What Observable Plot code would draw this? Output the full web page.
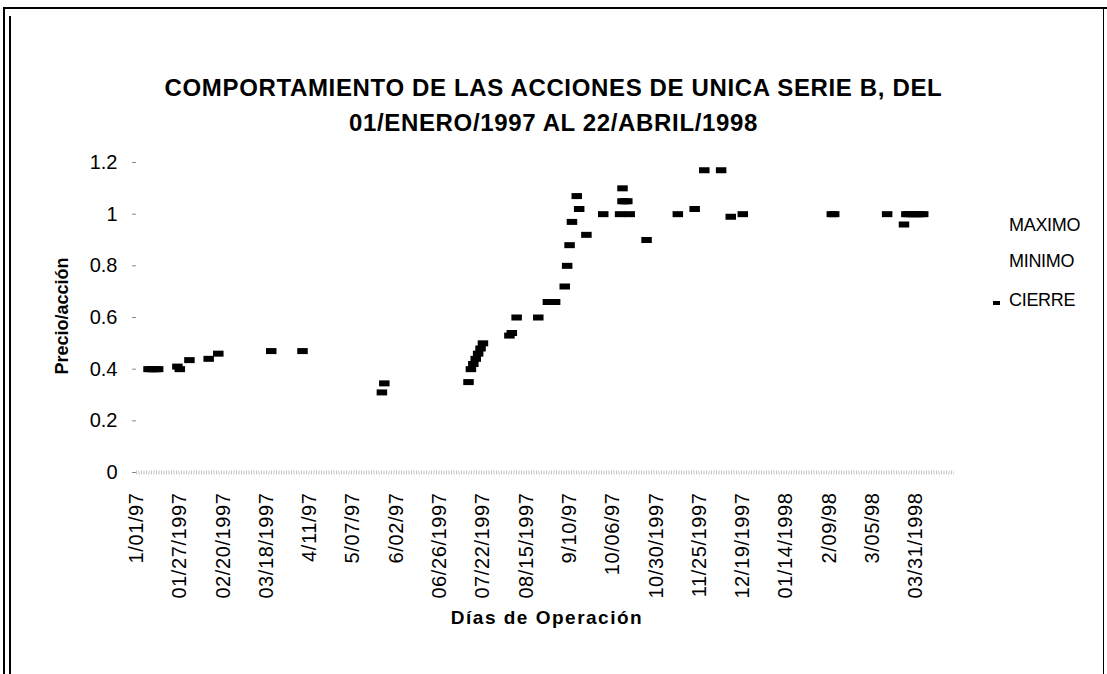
<!DOCTYPE html>
<html><head><meta charset="utf-8">
<script src="https://cdn.jsdelivr.net/npm/d3@7"></script>
<script src="https://cdn.jsdelivr.net/npm/@observablehq/plot@0.6"></script>
<style>
html,body{margin:0;padding:0;background:#fff;}
#wrap{position:relative;width:1107px;height:674px;overflow:hidden;font-family:"Liberation Sans",Arial,sans-serif;color:#000;background:#fff;}
#chart{position:absolute;left:0;top:0;}
.line{position:absolute;background:#000;}
.title{position:absolute;left:0;width:1107px;top:70px;text-align:center;font-weight:bold;font-size:24px;line-height:35px;letter-spacing:0.65px;}
.ytitle{position:absolute;left:-38px;top:305px;width:200px;text-align:center;font-weight:bold;font-size:18px;line-height:22px;transform:rotate(-90deg);transform-origin:100px 11px;}
.xtitle{position:absolute;left:347px;width:400px;top:606px;text-align:center;font-weight:bold;font-size:19px;line-height:24px;letter-spacing:1.5px;}
.leg{position:absolute;left:1009px;font-size:18px;line-height:20px;white-space:nowrap;letter-spacing:-0.3px;}
.legmark{position:absolute;left:993px;top:301px;width:7px;height:4px;background:#000;}
svg g[aria-label="x-axis tick label"] text{letter-spacing:0.6px;}
svg g[aria-label="y-axis tick"]{stroke:#888;}
</style></head><body>
<div id="wrap">
  <div id="chart"></div>
  <div class="line" style="left:3px;top:7px;width:1104px;height:2px;"></div>
  <div class="line" style="left:3px;top:7px;width:1.5px;height:667px;"></div>
  <div class="line" style="left:9px;top:16px;width:1.5px;height:658px;"></div>
  <div class="line" style="left:1103px;top:7px;width:1px;height:667px;"></div>
  <div class="title" id="title"></div>
  <div class="ytitle" id="ytitle"></div>
  <div class="xtitle" id="xtitle"></div>
  <div id="legend"></div>
</div>
<script>
// Category axis: trading (week) days counted from 1/01/97, labelled every 18 days
const tickEvery = 18;
const lastDay = 340;
const tickLabels = ["1/01/97","01/27/1997","02/20/1997","03/18/1997","4/11/97","5/07/97","6/02/97","06/26/1997","07/22/1997","08/15/1997","9/10/97","10/06/97","10/30/1997","11/25/1997","12/19/1997","01/14/1998","2/09/98","3/05/98","03/31/1998"];
const yTicks = [0, 0.2, 0.4, 0.6, 0.8, 1, 1.2];

// CIERRE (closing price) by trading-day index
const cierreDay = [5,6,7,8,9,17,18,22,30,34,56,69,102,103,138,139,140,141,142,143,144,155,156,158,167,171,172,173,174,178,179,180,181,183,184,187,194,201,202,202,203,204,205,212,225,232,236,243,247,252,289,290,312,319,320,321,322,323,324,325,326,327];
const cierreValue = [0.40,0.40,0.40,0.40,0.40,0.41,0.40,0.435,0.44,0.46,0.47,0.47,0.31,0.345,0.35,0.40,0.42,0.44,0.46,0.48,0.50,0.53,0.54,0.60,0.60,0.66,0.66,0.66,0.66,0.72,0.80,0.88,0.97,1.07,1.02,0.92,1.00,1.00,1.10,1.05,1.05,1.05,1.00,0.90,1.00,1.02,1.17,1.17,0.99,1.00,1.00,1.00,1.00,0.96,1.00,1.00,1.00,1.00,1.00,1.00,1.00,1.00];

const titleLines = ["COMPORTAMIENTO DE LAS ACCIONES DE UNICA SERIE B, DEL","01/ENERO/1997 AL 22/ABRIL/1998"];
const yTitle = "Precio/acción";
const xTitle = "Días de Operación";
const legendLabels = ["MAXIMO","MINIMO","CIERRE"];

document.getElementById("title").innerHTML = titleLines.join("<br>");
document.getElementById("ytitle").textContent = yTitle;
document.getElementById("xtitle").textContent = xTitle;
const legendTops = [215, 251, 290];
const legend = document.getElementById("legend");
legendLabels.forEach((t, i) => {
  const d = document.createElement("div");
  d.className = "leg";
  d.style.top = legendTops[i] + "px";
  d.textContent = t;
  legend.appendChild(d);
  if (t === "CIERRE") {
    const m = document.createElement("div");
    m.className = "legmark";
    legend.appendChild(m);
  }
});

const data = cierreDay.map((d, i) => ({day: d, value: cierreValue[i]}));
const tickDays = tickLabels.map((_, i) => i * tickEvery);
const rectSymbol = {draw(ctx) { ctx.rect(-5.25, -3, 10.5, 6); }};

const chart = Plot.plot({
  width: 1107,
  height: 674,
  marginLeft: 136,
  marginRight: 153,
  marginTop: 162,
  marginBottom: 202,
  style: {fontFamily: "Liberation Sans, Arial, sans-serif", color: "#000", background: "transparent", overflow: "visible"},
  x: {domain: [0, lastDay], axis: null},
  y: {domain: [0, 1.2], axis: null},
  marks: [
    Plot.ruleY([0], {stroke: "#c4c4c4", strokeWidth: 4, strokeDasharray: "1 1.5"}),
    Plot.axisY({ticks: yTicks, tickFormat: d => String(+d.toFixed(1)), tickSize: 4, tickPadding: 15, fontSize: 20, label: null}),
    Plot.axisX({ticks: tickDays, tickFormat: d => tickLabels[Math.round(d / tickEvery)], tickRotate: -90, tickSize: 0, tickPadding: 20, fontSize: 20, label: null}),
    Plot.dot(data, {x: "day", y: "value", symbol: rectSymbol, fill: "#000", stroke: "none"})
  ]
});
document.getElementById("chart").appendChild(chart);
</script>
</body></html>
